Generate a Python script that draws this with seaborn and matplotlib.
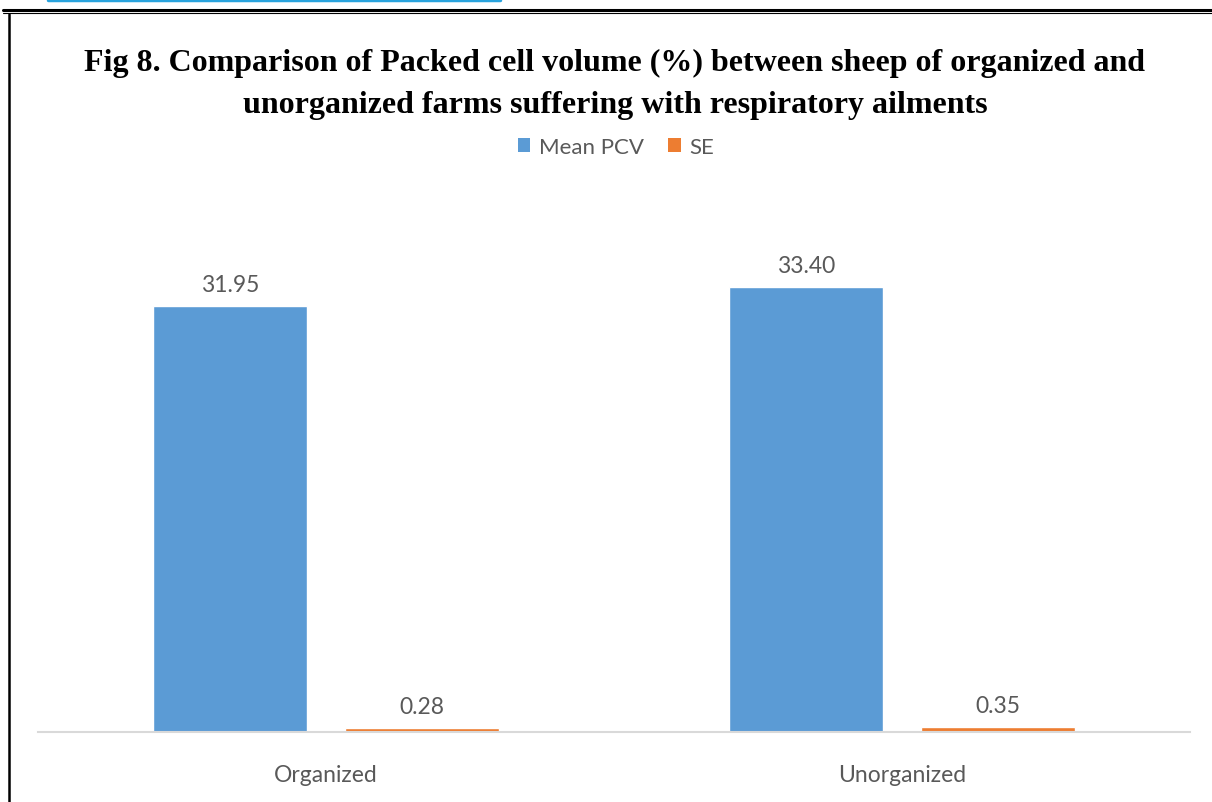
import matplotlib
matplotlib.use("Agg")
import matplotlib.pyplot as plt
from matplotlib.lines import Line2D
from matplotlib.patches import Patch
import seaborn as sns
import pandas as pd

categories = ["Organized", "Unorganized"]
mean_pcv = [31.95, 33.40]
se = [0.28, 0.35]
series_names = ["Mean PCV", "SE"]
title_text = ("Fig 8. Comparison of Packed cell volume (%) between sheep of organized and\n"
              "unorganized farms suffering with respiratory ailments")

df = pd.DataFrame({
    "Category": categories * 2,
    "Series": [series_names[0]] * len(categories) + [series_names[1]] * len(categories),
    "Value": mean_pcv + se,
})

sns.set_theme(style="white")
plt.rcParams["font.family"] = ["Lato", "DejaVu Sans"]

colors = ["#5B9BD5", "#ED7D31"]
text_color = "#595959"

fig = plt.figure(figsize=(12.12, 8.03), dpi=100)
ax = fig.add_axes([38 / 1212, 70 / 803, (1190 - 38) / 1212, (733 - 200) / 803])

sns.barplot(data=df, x="Category", y="Value", hue="Series", palette=colors,
            width=0.666, gap=0.2, ax=ax, legend=False, saturation=1)

ax.set_xlim(-0.5, 1.5)
ax.set_ylim(0, 40)
for c in ax.containers:
    ax.bar_label(c, fmt="%.2f", padding=8, fontsize=16.5, color=text_color)

ax.set_xlabel("")
ax.set_ylabel("")
ax.set_yticks([])
ax.tick_params(axis="x", length=0, pad=23, labelsize=16.5, labelcolor=text_color)
for s in ["top", "right", "left"]:
    ax.spines[s].set_visible(False)
ax.spines["bottom"].set_color("#D9D9D9")
ax.spines["bottom"].set_linewidth(1.5)

fig.text(615 / 1212, 1 - 84.5 / 803, title_text, ha="center", va="center", fontsize=23,
         fontweight="bold", family=["Liberation Serif", "DejaVu Serif"], color="#000000",
         linespacing=1.62)

handles = [Patch(facecolor=colors[0], edgecolor="none"), Patch(facecolor=colors[1], edgecolor="none")]
fig.legend(handles, series_names, loc="center", bbox_to_anchor=(616 / 1212, 1 - 148 / 803),
           ncol=2, frameon=False, fontsize=16, labelcolor=text_color,
           handlelength=0.55, handleheight=0.55, handletextpad=0.4, columnspacing=1.1)

# page frame artifacts
fig.add_artist(Line2D([48 / 1212, 500 / 1212], [1 - 1 / 803, 1 - 1 / 803], color="#29A3DD", lw=2.5))
fig.add_artist(Line2D([3 / 1212, 1.0], [1 - 10.5 / 803, 1 - 10.5 / 803], color="black", lw=2.2))
fig.add_artist(Line2D([3 / 1212, 1.0], [1 - 13.5 / 803, 1 - 13.5 / 803], color="black", lw=0.8))
fig.add_artist(Line2D([9 / 1212, 9 / 1212], [0, 1 - 15 / 803], color="black", lw=1.8))

fig.savefig("out.png", dpi=100)
